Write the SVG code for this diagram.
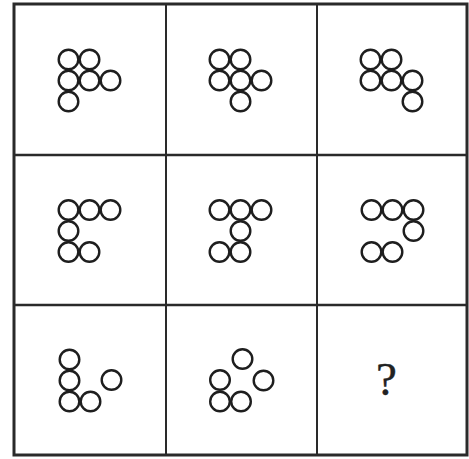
<svg xmlns="http://www.w3.org/2000/svg" width="469" height="459" viewBox="0 0 469 459">
<style>
.c{fill:none;stroke:#1e1e1e;stroke-width:2.4}
.grid{fill:none;stroke:#2a2a2a}
.q{font-family:"Liberation Serif","Times New Roman",serif;font-size:47px;fill:#222;stroke:#222;stroke-width:0.4;text-anchor:middle}
</style>
<rect width="469" height="459" fill="#fff"/>
<g id="grid">
<rect class="grid" x="14" y="4" width="453" height="451" stroke-width="3"/>
<line class="grid" x1="166" y1="4" x2="166" y2="455" stroke-width="2"/>
<line class="grid" x1="317" y1="4" x2="317" y2="455" stroke-width="2"/>
<line class="grid" x1="14" y1="155" x2="467" y2="155" stroke-width="2.4"/>
<line class="grid" x1="14" y1="305" x2="467" y2="305" stroke-width="2.4"/>
</g>
<g id="cell-1-1">
<circle class="c" cx="68.5" cy="59.5" r="9.8"/><circle class="c" cx="89.5" cy="59.5" r="9.8"/>
<circle class="c" cx="68.5" cy="80.5" r="9.8"/><circle class="c" cx="89.5" cy="80.5" r="9.8"/><circle class="c" cx="110.5" cy="80.5" r="9.8"/>
<circle class="c" cx="68.5" cy="101.5" r="9.8"/>
</g>
<g id="cell-1-2">
<circle class="c" cx="219.5" cy="59.5" r="9.8"/><circle class="c" cx="240.5" cy="59.5" r="9.8"/>
<circle class="c" cx="219.5" cy="80.5" r="9.8"/><circle class="c" cx="240.5" cy="80.5" r="9.8"/><circle class="c" cx="261.5" cy="80.5" r="9.8"/>
<circle class="c" cx="240.5" cy="101.5" r="9.8"/>
</g>
<g id="cell-1-3">
<circle class="c" cx="370.5" cy="59.5" r="9.8"/><circle class="c" cx="391.5" cy="59.5" r="9.8"/>
<circle class="c" cx="370.5" cy="80.5" r="9.8"/><circle class="c" cx="391.5" cy="80.5" r="9.8"/><circle class="c" cx="412.5" cy="80.5" r="9.8"/>
<circle class="c" cx="412.5" cy="101.5" r="9.8"/>
</g>
<g id="cell-2-1">
<circle class="c" cx="68.5" cy="210" r="9.8"/><circle class="c" cx="89.5" cy="210" r="9.8"/><circle class="c" cx="110.5" cy="210" r="9.8"/>
<circle class="c" cx="68.5" cy="231" r="9.8"/>
<circle class="c" cx="68.5" cy="252" r="9.8"/><circle class="c" cx="89.5" cy="252" r="9.8"/>
</g>
<g id="cell-2-2">
<circle class="c" cx="219.5" cy="210" r="9.8"/><circle class="c" cx="240.5" cy="210" r="9.8"/><circle class="c" cx="261.5" cy="210" r="9.8"/>
<circle class="c" cx="240.5" cy="231" r="9.8"/>
<circle class="c" cx="219.5" cy="252" r="9.8"/><circle class="c" cx="240.5" cy="252" r="9.8"/>
</g>
<g id="cell-2-3">
<circle class="c" cx="371.5" cy="210" r="9.8"/><circle class="c" cx="392.5" cy="210" r="9.8"/><circle class="c" cx="413.5" cy="210" r="9.8"/>
<circle class="c" cx="413.5" cy="231" r="9.8"/>
<circle class="c" cx="371.5" cy="252" r="9.8"/><circle class="c" cx="392.5" cy="252" r="9.8"/>
</g>
<g id="cell-3-1">
<circle class="c" cx="69.5" cy="359.5" r="9.8"/>
<circle class="c" cx="69.5" cy="380.5" r="9.8"/><circle class="c" cx="111.5" cy="380" r="9.8"/>
<circle class="c" cx="69.5" cy="401.5" r="9.8"/><circle class="c" cx="90.5" cy="401.5" r="9.8"/>
</g>
<g id="cell-3-2">
<circle class="c" cx="242.5" cy="359" r="9.8"/>
<circle class="c" cx="220" cy="380" r="9.8"/><circle class="c" cx="263.5" cy="380.5" r="9.8"/>
<circle class="c" cx="220" cy="401.5" r="9.8"/><circle class="c" cx="241" cy="401.5" r="9.8"/>
</g>
<g id="cell-3-3">
<text class="q" x="386.5" y="395">?</text>
</g>
</svg>
